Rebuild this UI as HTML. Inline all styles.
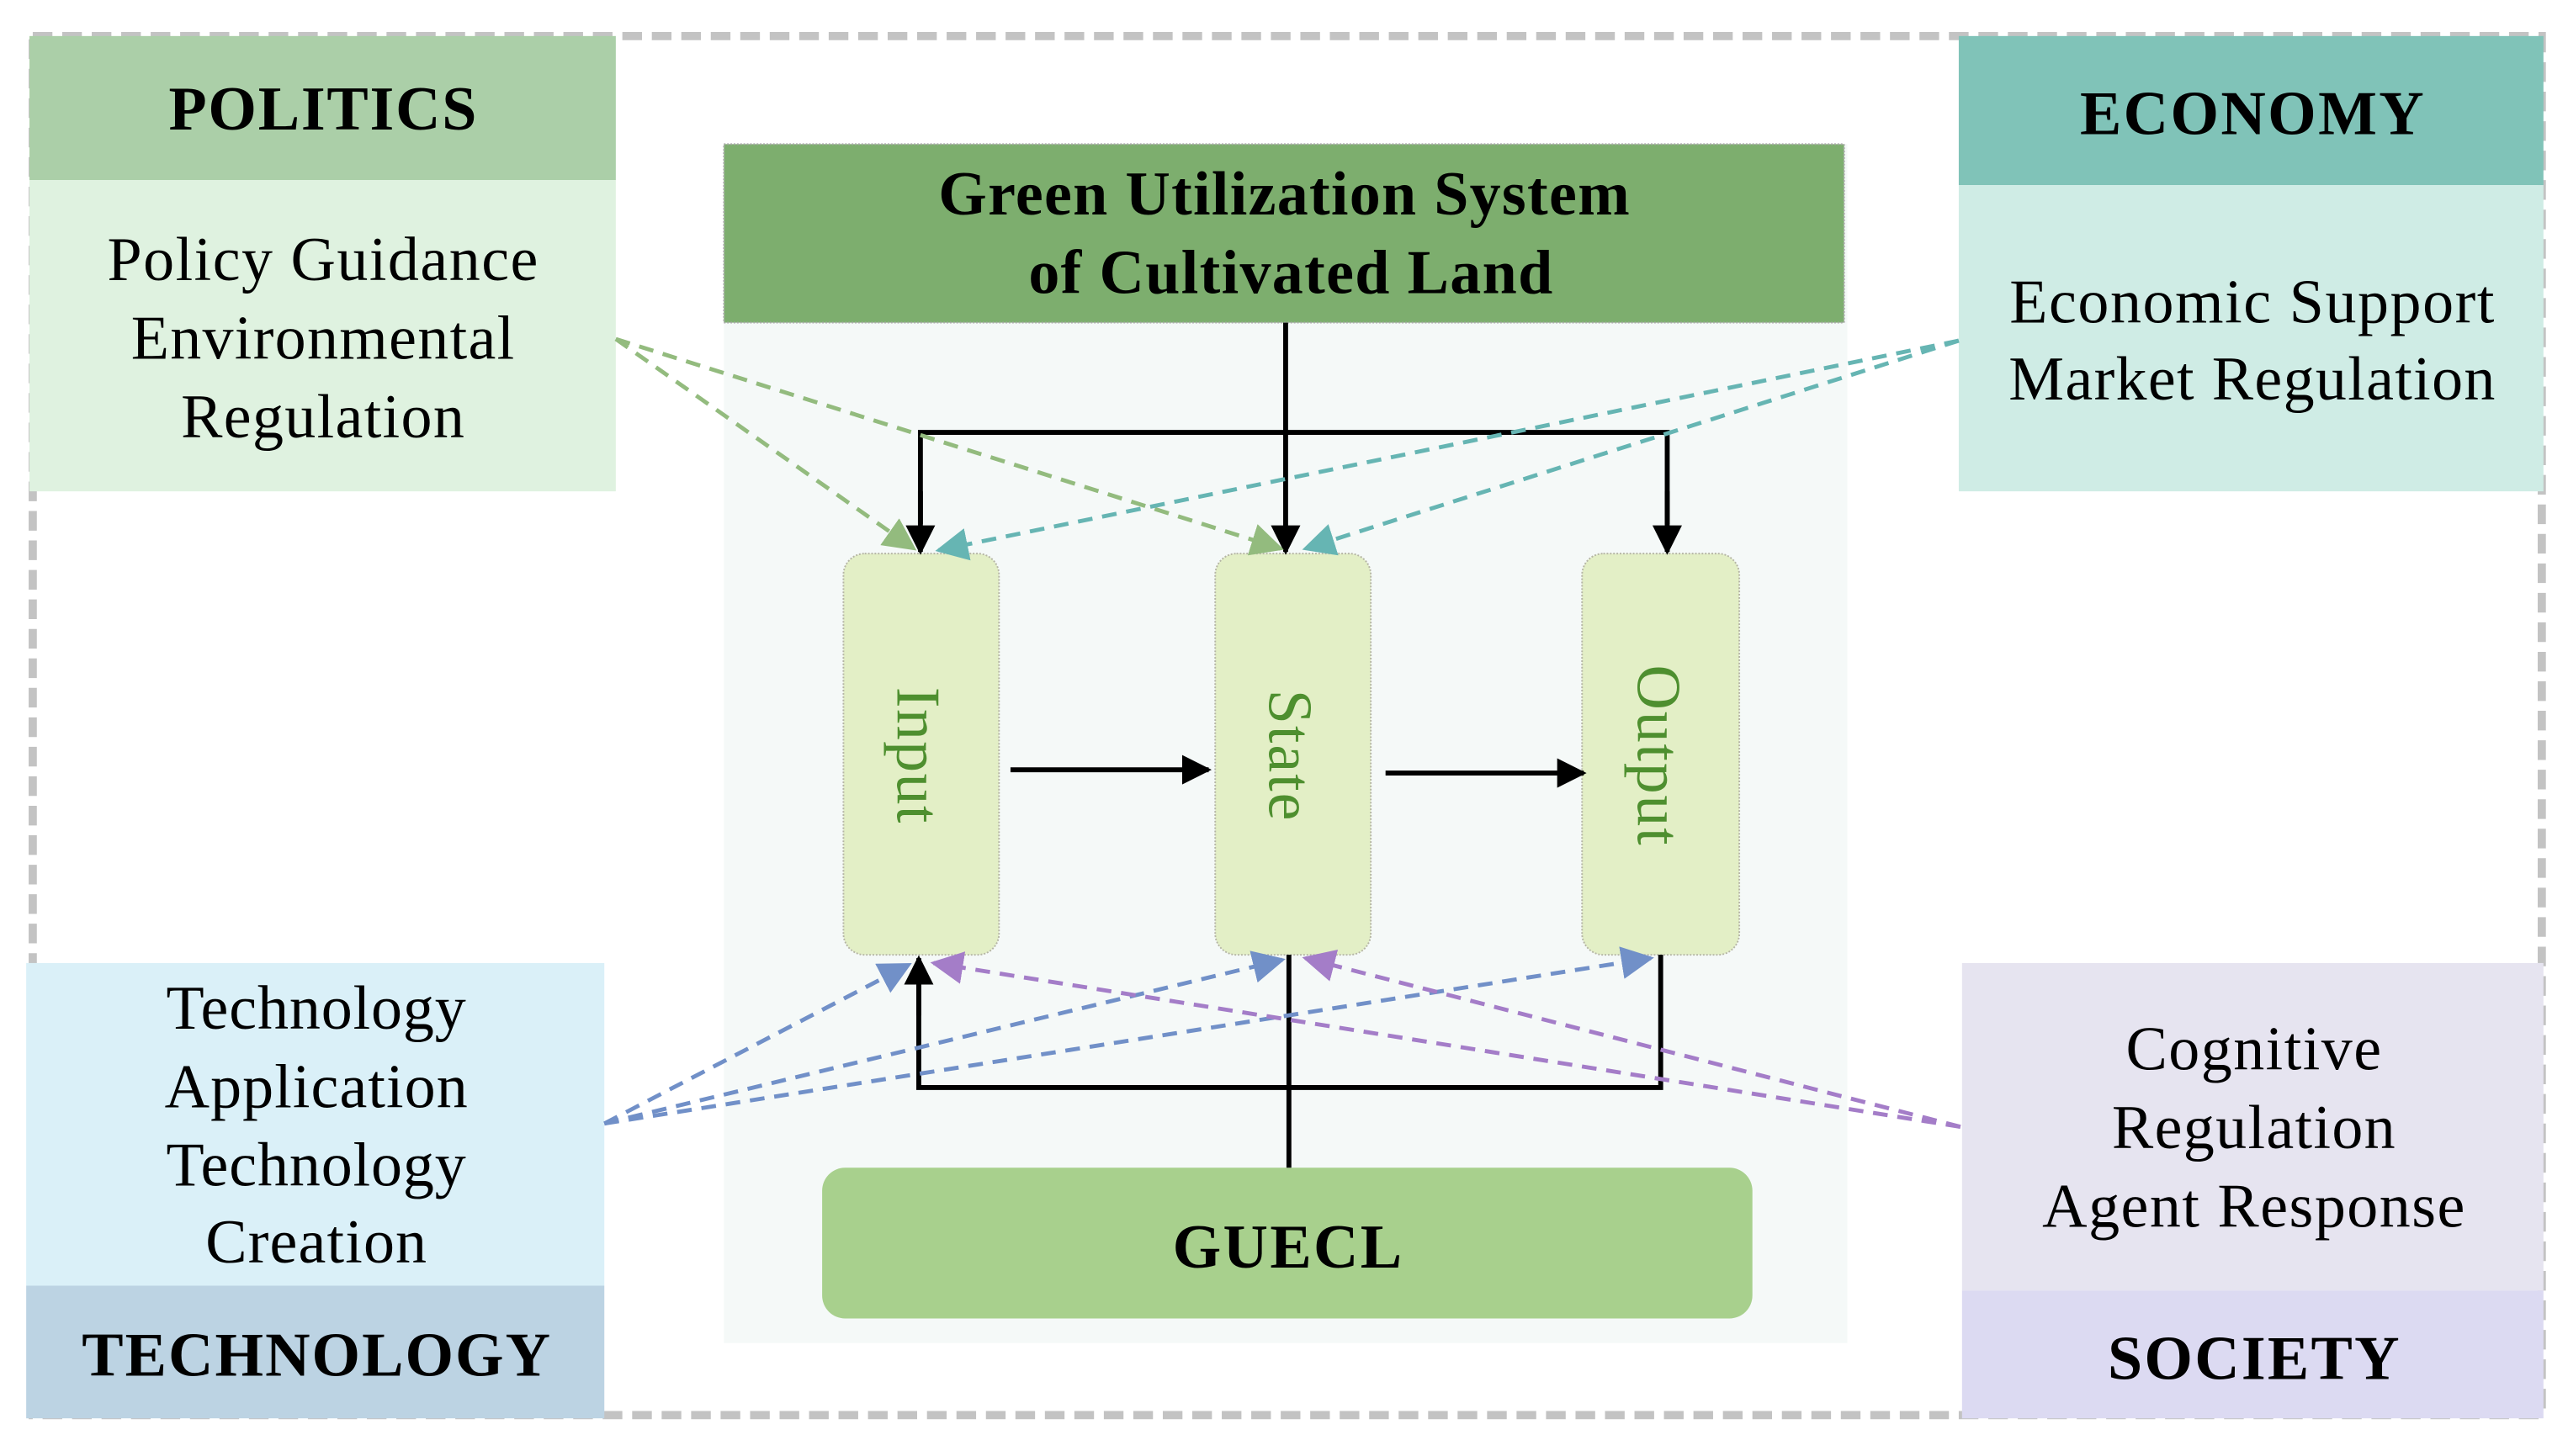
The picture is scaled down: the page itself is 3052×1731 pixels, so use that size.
<!DOCTYPE html>
<html><head><meta charset="utf-8"><style>
html,body{margin:0;padding:0;background:#fff;}
svg{display:block;}
text{font-family:"Liberation Serif",serif;}
</style></head><body>
<svg width="3052" height="1731" viewBox="0 0 1568 889" preserveAspectRatio="none" xmlns="http://www.w3.org/2000/svg">
<defs>
<marker id="ab" viewBox="0 0 10 10" refX="9" refY="5" markerWidth="18" markerHeight="18" orient="auto" markerUnits="userSpaceOnUse"><path d="M0,0L10,5L0,10z" fill="#000"/></marker>
<marker id="ag" viewBox="0 0 10 10" refX="9" refY="5" markerWidth="20" markerHeight="20" orient="auto" markerUnits="userSpaceOnUse"><path d="M0,0L10,5L0,10z" fill="#93bb7e"/></marker>
<marker id="at" viewBox="0 0 10 10" refX="9" refY="5" markerWidth="20" markerHeight="20" orient="auto" markerUnits="userSpaceOnUse"><path d="M0,0L10,5L0,10z" fill="#66b5b3"/></marker>
<marker id="abl" viewBox="0 0 10 10" refX="9" refY="5" markerWidth="20" markerHeight="20" orient="auto" markerUnits="userSpaceOnUse"><path d="M0,0L10,5L0,10z" fill="#7190c8"/></marker>
<marker id="ap" viewBox="0 0 10 10" refX="9" refY="5" markerWidth="20" markerHeight="20" orient="auto" markerUnits="userSpaceOnUse"><path d="M0,0L10,5L0,10z" fill="#a47dc8"/></marker>
</defs>
<rect x="20" y="22" width="1532" height="842" fill="none" stroke="#c3c3c3" stroke-width="5" stroke-dasharray="12 6"/>
<rect x="442" y="88" width="686" height="732" fill="#f5f9f8"/>
<rect x="442" y="88" width="684" height="109" fill="#7dae6e" stroke="#a9a9a9" stroke-width="1" stroke-dasharray="1 1"/>
<text x="784" y="131" text-anchor="middle" font-size="38" font-weight="bold" textLength="422">Green Utilization System</text>
<text x="788" y="179" text-anchor="middle" font-size="38" font-weight="bold" textLength="320">of Cultivated Land</text>
<rect x="18" y="22" width="358" height="88" fill="#abcfa8"/>
<rect x="18" y="110" width="358" height="190" fill="#dff2e0"/>
<text x="197" y="79" text-anchor="middle" font-size="38" font-weight="bold" textLength="188">POLITICS</text>
<text x="197" y="171" text-anchor="middle" font-size="38" textLength="263">Policy Guidance</text>
<text x="197" y="219" text-anchor="middle" font-size="38" textLength="234">Environmental</text>
<text x="197" y="267" text-anchor="middle" font-size="38" textLength="173">Regulation</text>
<rect x="1196" y="22" width="357" height="91" fill="#80c3b8"/>
<rect x="1196" y="113" width="357" height="187" fill="#cfece5"/>
<text x="1375" y="82" text-anchor="middle" font-size="38" font-weight="bold" textLength="210">ECONOMY</text>
<text x="1375" y="197" text-anchor="middle" font-size="38" textLength="296">Economic Support</text>
<text x="1375" y="244" text-anchor="middle" font-size="38" textLength="297">Market Regulation</text>
<rect x="16" y="588" width="353" height="197" fill="#daf0f8"/>
<rect x="16" y="785" width="353" height="81" fill="#bcd3e3"/>
<text x="193" y="628" text-anchor="middle" font-size="38" textLength="183">Technology</text>
<text x="193" y="676" text-anchor="middle" font-size="38" textLength="185">Application</text>
<text x="193" y="724" text-anchor="middle" font-size="38" textLength="183">Technology</text>
<text x="193" y="771" text-anchor="middle" font-size="38" textLength="135">Creation</text>
<text x="193" y="840" text-anchor="middle" font-size="38" font-weight="bold" textLength="286">TECHNOLOGY</text>
<rect x="1198" y="588" width="355" height="200" fill="#e6e4f0"/>
<rect x="1198" y="788" width="355" height="78" fill="#dcdaf2"/>
<text x="1376" y="653" text-anchor="middle" font-size="38" textLength="156">Cognitive</text>
<text x="1376" y="701" text-anchor="middle" font-size="38" textLength="173">Regulation</text>
<text x="1376" y="749" text-anchor="middle" font-size="38" textLength="258">Agent Response</text>
<text x="1376" y="842" text-anchor="middle" font-size="38" font-weight="bold" textLength="178">SOCIETY</text>
<rect x="515" y="338" width="95" height="245" rx="13" fill="#e3efc6" stroke="#b5b5a5" stroke-width="1" stroke-dasharray="1 1"/>
<rect x="742" y="338" width="95" height="245" rx="13" fill="#e3efc6" stroke="#b5b5a5" stroke-width="1" stroke-dasharray="1 1"/>
<rect x="966" y="338" width="96" height="245" rx="13" fill="#e3efc6" stroke="#b5b5a5" stroke-width="1" stroke-dasharray="1 1"/>
<text transform="translate(548,461) rotate(90)" text-anchor="middle" font-size="38" fill="#4e8f2f" textLength="83">Input</text>
<text transform="translate(775,461) rotate(90)" text-anchor="middle" font-size="38" fill="#4e8f2f" textLength="80">State</text>
<text transform="translate(1000,461) rotate(90)" text-anchor="middle" font-size="38" fill="#4e8f2f" textLength="110">Output</text>
<rect x="502" y="713" width="568" height="92" rx="14" fill="#a8d08d"/>
<text x="786" y="774" text-anchor="middle" font-size="38" font-weight="bold" textLength="140">GUECL</text>
<g stroke="#000" stroke-width="3" fill="none">
<line x1="785" y1="197" x2="785" y2="337" marker-end="url(#ab)"/>
<polyline points="562,320 562,264 1018,264 1018,320" />
<line x1="562" y1="300" x2="562" y2="337" marker-end="url(#ab)"/>
<line x1="1018" y1="300" x2="1018" y2="337" marker-end="url(#ab)"/>
<line x1="617" y1="470" x2="738" y2="470" marker-end="url(#ab)"/>
<line x1="846" y1="472" x2="967" y2="472" marker-end="url(#ab)"/>
<line x1="787" y1="713" x2="787" y2="583"/>
<polyline points="561,600 561,664 1014,664 1014,583"/>
<line x1="561" y1="620" x2="561" y2="585" marker-end="url(#ab)"/>
</g>
<g stroke-width="2.5" stroke-dasharray="9 6" fill="none">
<line x1="376" y1="207" x2="558" y2="335" stroke="#93bb7e" marker-end="url(#ag)"/>
<line x1="376" y1="207" x2="782" y2="335" stroke="#93bb7e" marker-end="url(#ag)"/>
<line x1="1196" y1="208" x2="573" y2="336" stroke="#66b5b3" marker-end="url(#at)"/>
<line x1="1196" y1="208" x2="797" y2="335" stroke="#66b5b3" marker-end="url(#at)"/>
<line x1="369" y1="686" x2="555" y2="589" stroke="#7190c8" marker-end="url(#abl)"/>
<line x1="369" y1="686" x2="783" y2="586" stroke="#7190c8" marker-end="url(#abl)"/>
<line x1="369" y1="686" x2="1008" y2="585" stroke="#7190c8" marker-end="url(#abl)"/>
<line x1="1197" y1="688" x2="570" y2="588" stroke="#a47dc8" marker-end="url(#ap)"/>
<line x1="1197" y1="688" x2="797" y2="585" stroke="#a47dc8" marker-end="url(#ap)"/>
</g>
</svg>
</body></html>
